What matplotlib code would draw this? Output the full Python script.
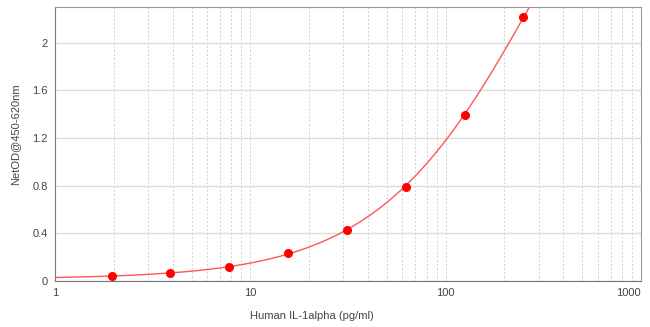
import matplotlib.pyplot as plt
import numpy as np
from matplotlib.ticker import FixedLocator, NullFormatter

plt.rcParams['font.family'] = ['Liberation Sans', 'DejaVu Sans']

# standard concentrations and measured OD
conc = [1.95, 3.9, 7.8, 15.6, 31.25, 62.5, 125, 250]
od = [0.042, 0.067, 0.118, 0.235, 0.43, 0.79, 1.395, 2.22]

y_ticks = [0, 0.4, 0.8, 1.2, 1.6, 2]
y_labels = ['0', '0.4', '0.8', '1.2', '1.6', '2']
x_ticks = [1, 10, 100, 1000]
x_labels = ['1', '10', '100', '1000']

# fitted curve: cubic in log-log space
coef = np.polyfit(np.log10(conc), np.log(od), 3)
xs = np.logspace(0, 2.6, 300)
ys = np.exp(np.polyval(coef, np.log10(xs)))

fig = plt.figure(figsize=(6.5, 3.27), dpi=100)
ax = fig.add_axes([0.0846, 0.1407, 0.9014, 0.8379])

ax.set_xscale('log')
ax.set_xlim(1, 1000)
ax.set_ylim(0, 2.3)

minor = [m * 10 ** d for d in range(3) for m in range(2, 10)]
ax.xaxis.set_minor_locator(FixedLocator(minor))
ax.xaxis.set_minor_formatter(NullFormatter())
ax.set_xticks(x_ticks)
ax.set_xticklabels(x_labels)
ax.set_yticks(y_ticks)
ax.set_yticklabels(y_labels)
ax.get_xticklabels()[-1].set_horizontalalignment('right')

ax.grid(which='both', axis='x', color='#d0d0d0', linestyle=(0, (2, 2)), linewidth=0.7)
ax.grid(which='major', axis='y', color='#dddddd', linestyle='-', linewidth=1)
ax.set_axisbelow(True)

ax.plot(xs, ys, color='#ff5555', linewidth=1, zorder=3)
ax.plot(conc, od, 'o', color='#ff0000', markersize=5.5, zorder=4)

for s in ax.spines.values():
    s.set_color('#999999')
ax.spines['left'].set_color('#777777')
ax.spines['bottom'].set_color('#777777')
ax.tick_params(which='both', length=0, labelsize=8, labelcolor='#444444', pad=5)

fig.text(0.48, 0.035, 'Human IL-1alpha (pg/ml)', fontsize=8, color='#444444', ha='center', va='center')
fig.text(0.023, 0.59, 'NetOD@450-620nm', fontsize=8, color='#444444', rotation=90, ha='center', va='center')

fig.savefig('out.png', dpi=100)
